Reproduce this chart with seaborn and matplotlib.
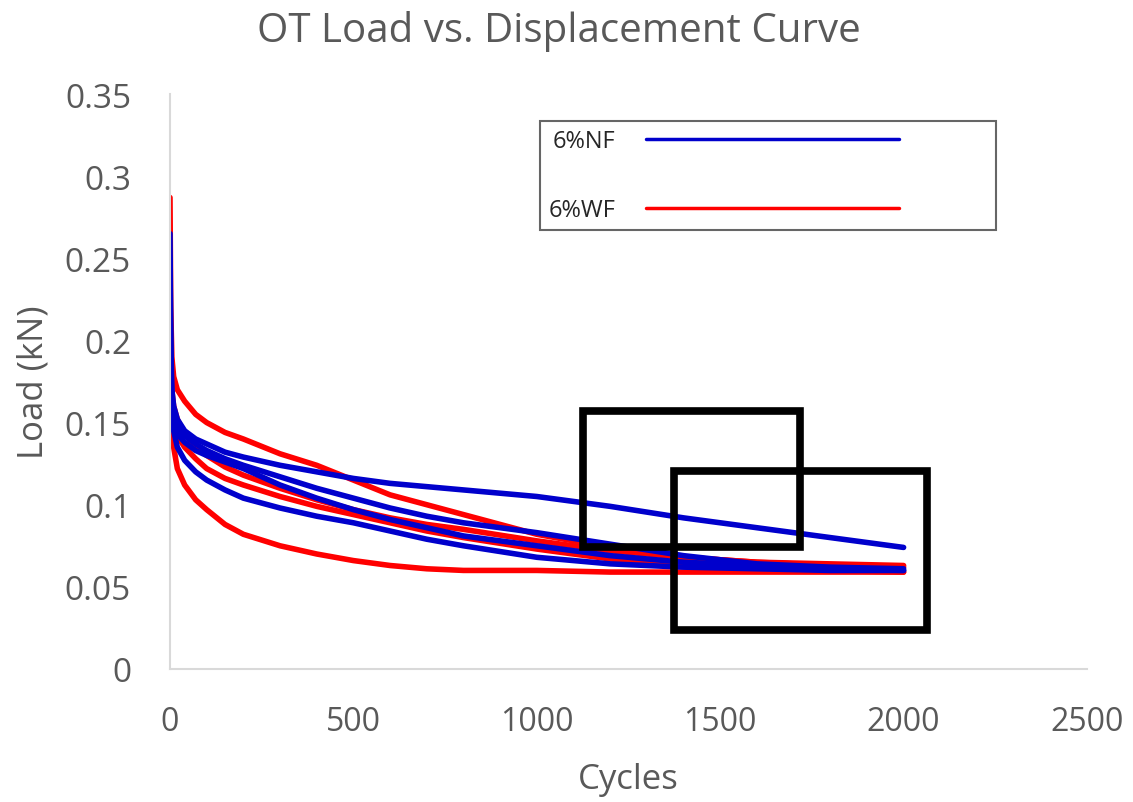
import matplotlib
matplotlib.use("Agg")
import matplotlib.pyplot as plt
from matplotlib.legend_handler import HandlerLine2D
from matplotlib.lines import Line2D
from matplotlib.patches import Rectangle
import seaborn as sns
import pandas as pd

# ---------------- data ----------------
cycles = [0, 2, 5, 10, 20, 40, 70, 100, 150, 200, 300, 400, 500, 600, 700,
          800, 1000, 1200, 1400, 1600, 1800, 2000]

nf_1 = [0.265, 0.200, 0.170, 0.160, 0.152, 0.145, 0.140, 0.137, 0.132, 0.129, 0.124,
        0.120, 0.116, 0.113, 0.111, 0.109, 0.105, 0.099, 0.092, 0.086, 0.080, 0.074]
nf_2 = [0.250, 0.190, 0.165, 0.155, 0.148, 0.142, 0.137, 0.133, 0.128, 0.124, 0.117,
        0.110, 0.104, 0.098, 0.093, 0.089, 0.083, 0.076, 0.069, 0.064, 0.062, 0.061]
nf_3 = [0.230, 0.180, 0.155, 0.145, 0.135, 0.127, 0.120, 0.115, 0.109, 0.104, 0.098,
        0.093, 0.089, 0.084, 0.079, 0.075, 0.068, 0.064, 0.062, 0.061, 0.060, 0.060]
nf_4 = [0.220, 0.185, 0.160, 0.150, 0.143, 0.138, 0.133, 0.130, 0.126, 0.122, 0.112,
        0.104, 0.097, 0.091, 0.086, 0.081, 0.075, 0.069, 0.065, 0.063, 0.061, 0.060]

wf_1 = [0.200, 0.165, 0.145, 0.135, 0.122, 0.112, 0.103, 0.097, 0.088, 0.082, 0.075,
        0.070, 0.066, 0.063, 0.061, 0.060, 0.060, 0.059, 0.059, 0.059, 0.059, 0.059]
wf_2 = [0.287, 0.220, 0.190, 0.178, 0.170, 0.163, 0.155, 0.150, 0.144, 0.140, 0.131,
        0.124, 0.115, 0.106, 0.100, 0.094, 0.082, 0.074, 0.068, 0.065, 0.063, 0.062]
wf_3 = [0.240, 0.190, 0.170, 0.160, 0.152, 0.143, 0.135, 0.130, 0.123, 0.118, 0.110,
        0.103, 0.097, 0.092, 0.088, 0.085, 0.078, 0.072, 0.068, 0.065, 0.064, 0.063]
wf_4 = [0.220, 0.180, 0.160, 0.150, 0.142, 0.135, 0.128, 0.122, 0.116, 0.112, 0.105,
        0.099, 0.094, 0.089, 0.084, 0.080, 0.073, 0.067, 0.063, 0.061, 0.060, 0.059]

series_labels = ["6%NF", "6%WF"]
nf_runs = [nf_1, nf_2, nf_3, nf_4]
wf_runs = [wf_1, wf_2, wf_3, wf_4]

# highlighted regions (x0, x1, y0, y1) in data units
highlight_a = [1126, 1718, 0.0743, 0.157]
highlight_b = [1374, 2064, 0.0237, 0.1205]

x_ticks = [0, 500, 1000, 1500, 2000, 2500]
y_ticks = [0, 0.05, 0.1, 0.15, 0.2, 0.25, 0.3, 0.35]
y_tick_labels = ["0", "0.05", "0.1", "0.15", "0.2", "0.25", "0.3", "0.35"]

# ---------------- build long-form frame ----------------
rows = []
for label, runs in ((series_labels[1], wf_runs), (series_labels[0], nf_runs)):
    for i, run in enumerate(runs):
        for c, v in zip(cycles, run):
            rows.append({"Cycles": c, "Load": v, "Mix": label, "Run": f"{label}-{i}"})
df = pd.DataFrame(rows)

# ---------------- style ----------------
sns.set_theme(style="white")
plt.rcParams["font.family"] = ["Open Sans", "DejaVu Sans"]
text_grey = "#595959"
blue = "#0000CC"
red = "#FF0000"

fig = plt.figure(figsize=(11.33, 8.03), dpi=100)
ax = fig.add_axes([170 / 1133, 1 - 670 / 803, (1087 - 170) / 1133, (670 - 95) / 803])

sns.lineplot(data=df, x="Cycles", y="Load", hue="Mix", units="Run", estimator=None,
             palette={series_labels[0]: blue, series_labels[1]: red},
             hue_order=[series_labels[1], series_labels[0]],
             linewidth=4, legend=False, ax=ax, sort=False)

for (x0, x1, y0, y1) in (highlight_a, highlight_b):
    ax.add_patch(Rectangle((x0, y0), x1 - x0, y1 - y0, fill=False,
                           edgecolor="black", linewidth=5.5, zorder=5))

ax.set_xlim(0, 2500)
ax.set_ylim(0, 0.35)
ax.set_xticks(x_ticks)
ax.set_yticks(y_ticks)
ax.set_yticklabels(y_tick_labels)
ax.tick_params(axis="both", length=0, labelcolor=text_grey)
ax.tick_params(axis="y", pad=28, labelsize=24)
ax.tick_params(axis="x", pad=26, labelsize=23)

for s in ("top", "right"):
    ax.spines[s].set_visible(False)
for s in ("left", "bottom"):
    ax.spines[s].set_color("#d9d9d9")
    ax.spines[s].set_linewidth(1.5)

ax.set_xlabel("Cycles", fontsize=25, color=text_grey, labelpad=17)
ax.set_ylabel("Load (kN)", fontsize=25, color=text_grey, labelpad=10)
fig.text(559 / 1133, 1 - 32 / 803, "OT Load vs. Displacement Curve",
         ha="center", va="center", fontsize=29, color=text_grey)


class ShortLineHandler(HandlerLine2D):
    def create_artists(self, legend, orig_handle, xdescent, ydescent, width,
                       height, fontsize, trans):
        return super().create_artists(legend, orig_handle, xdescent, ydescent,
                                      width * 0.74, height, fontsize, trans)


handles = [Line2D([], [], color=blue, linewidth=2.5),
           Line2D([], [], color=red, linewidth=2.5)]
leg = ax.legend(handles, series_labels, loc="upper left",
                bbox_to_anchor=((540 - 170) / 917, (670 - 122) / 575),
                borderaxespad=0, markerfirst=False, frameon=True, fancybox=False,
                fontsize=17, handlelength=14.5, handletextpad=1.3,
                labelspacing=1.9, borderpad=0.35,
                handler_map={Line2D: ShortLineHandler()})
leg.get_frame().set_edgecolor("#404040")
leg.get_frame().set_linewidth(1.5)
for t in leg.get_texts():
    t.set_color("#262626")

fig.savefig("out.png", dpi=100)
